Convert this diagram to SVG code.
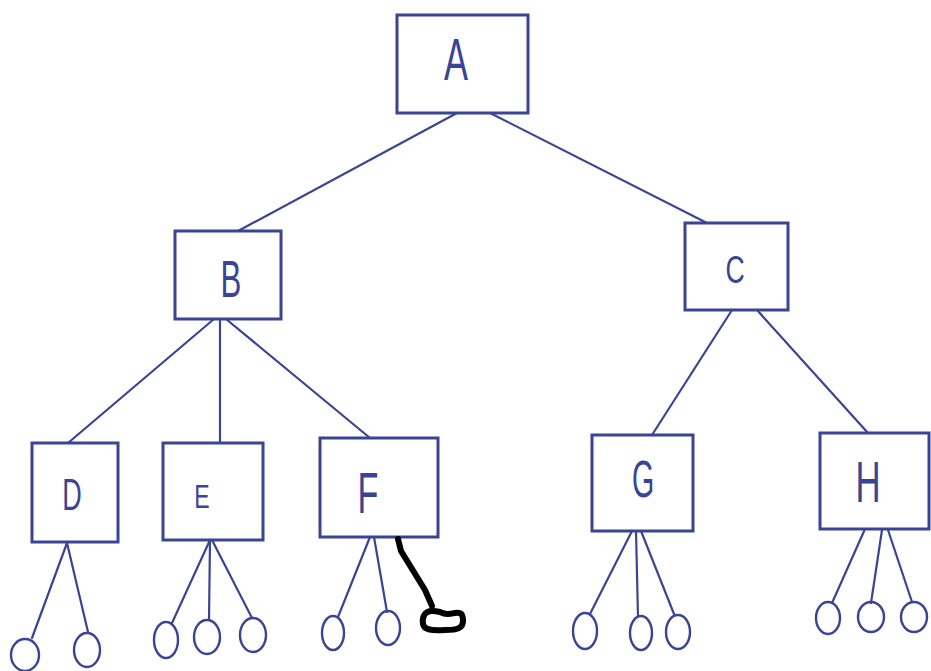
<svg xmlns="http://www.w3.org/2000/svg" width="931" height="671" viewBox="0 0 931 671">
<style>
.box{fill:none;stroke:#3a4494;stroke-width:3}
.edge{fill:none;stroke:#3a4494;stroke-width:2.2;stroke-linecap:round}
.leaf{fill:none;stroke:#3a4494;stroke-width:2.4}
.lbl{font-family:"Liberation Sans",Arial,sans-serif;fill:#3a4494;text-anchor:middle;font-weight:normal}
.mark{fill:none;stroke:#000;stroke-width:6;stroke-linecap:round;stroke-linejoin:round}
</style>
<rect width="931" height="671" fill="#ffffff"/>
<g id="connectors">
<line class="edge" x1="457" y1="113" x2="238" y2="231"/>
<line class="edge" x1="490" y1="113" x2="707" y2="223"/>
<line class="edge" x1="214" y1="319" x2="68" y2="443"/>
<line class="edge" x1="220" y1="319" x2="220" y2="442"/>
<line class="edge" x1="226" y1="319" x2="370" y2="438"/>
<line class="edge" x1="732" y1="310" x2="652" y2="435"/>
<line class="edge" x1="757" y1="310" x2="868" y2="433"/>
<line class="edge" x1="67" y1="543" x2="32" y2="638"/>
<line class="edge" x1="67" y1="543" x2="88" y2="632"/>
<line class="edge" x1="210" y1="540" x2="172" y2="623"/>
<line class="edge" x1="210" y1="540" x2="209" y2="620"/>
<line class="edge" x1="212" y1="540" x2="252" y2="618"/>
<line class="edge" x1="370" y1="537" x2="338" y2="617"/>
<line class="edge" x1="374" y1="537" x2="387" y2="612"/>
<line class="edge" x1="632" y1="531" x2="590" y2="614"/>
<line class="edge" x1="636" y1="531" x2="638" y2="617"/>
<line class="edge" x1="641" y1="531" x2="674" y2="614"/>
<line class="edge" x1="865" y1="529" x2="832" y2="603"/>
<line class="edge" x1="882" y1="530" x2="871" y2="603"/>
<line class="edge" x1="888" y1="530" x2="912" y2="602"/>
</g>
<g id="A"><rect class="box" x="397" y="15" width="131" height="98"/><text class="lbl" font-size="60" transform="translate(456 80) scale(0.6 1)">A</text></g>
<g id="B"><rect class="box" x="175" y="231" width="106" height="88"/><text class="lbl" font-size="52" transform="translate(231 297) scale(0.6 1)">B</text></g>
<g id="C"><rect class="box" x="685" y="223" width="103" height="87"/><text class="lbl" font-size="38" transform="translate(735 283) scale(0.7 1)">C</text></g>
<g id="D"><rect class="box" x="32" y="443" width="86" height="99"/><text class="lbl" font-size="45" transform="translate(72 510) scale(0.6 1)">D</text></g>
<g id="E"><rect class="box" x="163" y="443" width="100" height="97"/><text class="lbl" font-size="33" transform="translate(202 508) scale(0.7 1)">E</text></g>
<g id="F"><rect class="box" x="320" y="438" width="118" height="99"/><text class="lbl" font-size="57" transform="translate(368 513) scale(0.6 1)">F</text></g>
<g id="G"><rect class="box" x="592" y="435" width="101" height="96"/><text class="lbl" font-size="52" transform="translate(643 497) scale(0.55 1)">G</text></g>
<g id="H"><rect class="box" x="820" y="433" width="109" height="96"/><text class="lbl" font-size="58" transform="translate(868 502) scale(0.6 1)">H</text></g>
<g id="leaves">
<ellipse class="leaf" cx="25" cy="655" rx="14" ry="16"/>
<ellipse class="leaf" cx="87" cy="650" rx="13" ry="17"/>
<ellipse class="leaf" cx="166" cy="640" rx="12" ry="18"/>
<ellipse class="leaf" cx="207" cy="637" rx="13" ry="17"/>
<ellipse class="leaf" cx="253" cy="635" rx="13" ry="17"/>
<ellipse class="leaf" cx="333" cy="633" rx="11" ry="17"/>
<ellipse class="leaf" cx="388" cy="628" rx="12" ry="17"/>
<ellipse class="leaf" cx="585" cy="631" rx="12" ry="18"/>
<ellipse class="leaf" cx="641" cy="633" rx="11" ry="17"/>
<ellipse class="leaf" cx="678" cy="632" rx="12" ry="17"/>
<ellipse class="leaf" cx="828" cy="618" rx="12" ry="16"/>
<ellipse class="leaf" cx="871" cy="617" rx="13" ry="15"/>
<ellipse class="leaf" cx="914" cy="617" rx="13" ry="15"/>
</g>
<g id="mark">
<path class="mark" d="M398 539 L401 551 L425 590 L432 606"/>
<path class="mark" d="M432 611 C424 611 422 618 423 624 C424 630 432 631 445 630 C458 630 463 628 463 621 C463 613 460 612 455 613 C450 614 446 615 440 612 C436 611 434 611 432 611 Z"/>
</g>
</svg>
